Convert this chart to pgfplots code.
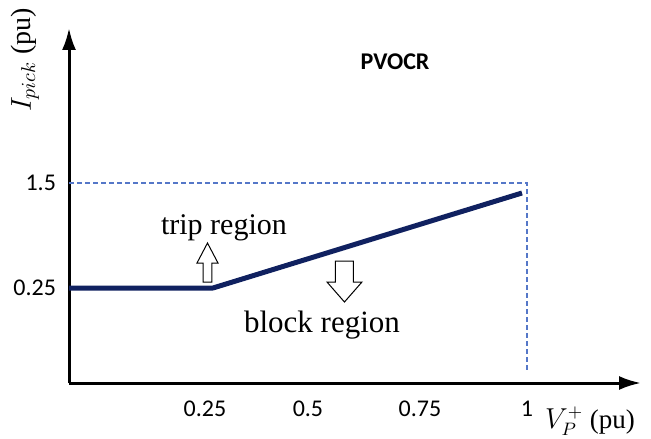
\documentclass[border=0pt]{standalone}
\usepackage{fontspec}
\setmainfont{Liberation Serif}
\newfontfamily\carlito{Carlito}
\usepackage{pgfplots}
\pgfplotsset{compat=1.18}
\usetikzlibrary{arrows.meta}
\definecolor{navy}{HTML}{102160}
\definecolor{dashblue}{HTML}{5577C8}
\begin{document}
\begin{tikzpicture}
\useasboundingbox (-34.5pt,-27.5pt) rectangle (291pt,191.5pt);
\begin{axis}[
  at={(0,0)}, anchor=south west,
  scale only axis, width=286pt, height=177.5pt,
  xmin=0, xmax=1.249, ymin=0, ymax=2.6625,
  axis lines=left,
  axis line style={line width=1.5pt, -{Latex[length=11pt,width=7pt]}},
  clip=false,
  major tick length=0pt,
  xtick={0.297,0.5218,0.7664,1.0},
  xticklabels={0.25,0.5,0.75,1},
  ytick={0.7125,1.5},
  yticklabels={0.25,1.5},
  ticklabel style={font=\carlito\fontsize{12}{14}\selectfont},
  xticklabel style={yshift=-5.5pt},
  yticklabel style={xshift=-3pt},
]
\addplot[navy, line width=2.5pt, line join=round] coordinates {(0,0.7125) (0.3144,0.7125) (0.9891,1.425)};
\addplot[dashblue, line width=0.6pt, dash pattern=on 2.5pt off 1.5pt] coordinates {(0,1.5) (1.0,1.5) (1.0,0.075)};
% hollow arrows
\draw[black, line width=0.5pt, fill=white] (axis cs:0.2926,0.7575) -- (axis cs:0.2926,0.9) -- (axis cs:0.2795,0.9) -- (axis cs:0.3024,1.05) -- (axis cs:0.3253,0.9) -- (axis cs:0.3122,0.9) -- (axis cs:0.3122,0.7575) -- cycle;
\draw[black, line width=0.5pt, fill=white] (axis cs:0.5819,0.915) -- (axis cs:0.5819,0.7575) -- (axis cs:0.5633,0.7575) -- (axis cs:0.6015,0.6075) -- (axis cs:0.6397,0.7575) -- (axis cs:0.6212,0.7575) -- (axis cs:0.6212,0.915) -- cycle;
\node[font=\carlito\bfseries\fontsize{12}{14}\selectfont] at (axis cs:0.712,2.4075) {PVOCR};
\node[font=\fontsize{15}{17}\selectfont] at (axis cs:0.3384,1.1625) {trip region};
\node[font=\fontsize{15.5}{17}\selectfont] at (axis cs:0.5524,0.435) {block region};
\node[font=\fontsize{13.5}{16}\selectfont] at (axis cs:1.1376,-0.285) {$V_P^+$ (pu)};
\node[font=\fontsize{14}{16}\selectfont, rotate=90] at (axis cs:-0.096,2.4225) {$I_{pick}$ (pu)};
\end{axis}
\end{tikzpicture}
\end{document}
